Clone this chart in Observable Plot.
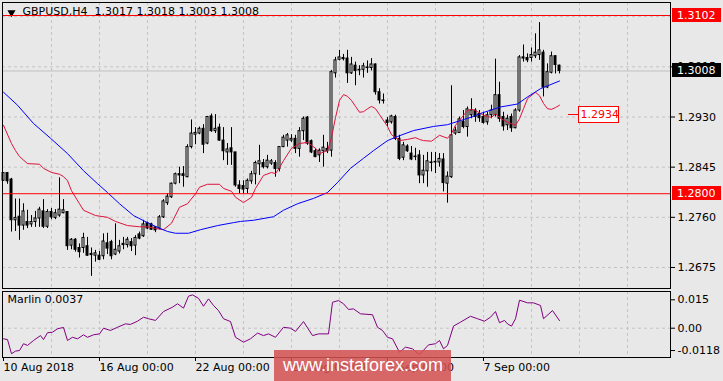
<!DOCTYPE html>
<html><head><meta charset="utf-8">
<script src="https://cdn.jsdelivr.net/npm/d3@7"></script>
<script src="https://cdn.jsdelivr.net/npm/@observablehq/plot@0.6"></script>
<style>
body{margin:0;background:#e8e8e8;}
#chart{position:relative;width:723px;height:381px;background:#e8e8e8;overflow:hidden;font-family:"DejaVu Sans",sans-serif;}
#chart svg{position:absolute;left:0;}
#wm{position:absolute;left:274px;top:350px;width:177px;height:31px;background:rgba(212,80,80,0.86);color:#fff;font:18px "Liberation Sans",Arial,sans-serif;line-height:31px;padding-left:9px;box-sizing:border-box;white-space:nowrap;}
</style></head><body><div id="chart"></div>
<script>
// ---- Data (H4 bars, index 0 = 10 Aug 2018 00:00) ----
const symbol = "GBPUSD,H4";
const open = [1.2822,1.2835,1.2824,1.2755,1.2761,1.2746,1.2752,1.2748,1.2752,1.2758,
1.2770,1.2744,1.2769,1.2759,1.2763,1.2767,1.2769,1.2712,1.2722,1.2708,
1.2708,1.2711,1.2698,1.2695,1.2695,1.2694,1.2716,1.2718,1.2697,1.2702,
1.2715,1.2713,1.2718,1.2712,1.2731,1.2728,1.2750,1.2748,1.2743,1.2741,
1.2760,1.2784,1.2794,1.2817,1.2833,1.2833,1.2828,1.2879,1.2900,1.2902,
1.2910,1.2885,1.2931,1.2906,1.2912,1.2890,1.2870,1.2877,1.2870,1.2814,
1.2813,1.2808,1.2821,1.2833,1.2850,1.2852,1.2845,1.2851,1.2852,1.2842,
1.2879,1.2890,1.2890,1.2893,1.2876,1.2906,1.2929,1.2889,1.2872,1.2865,
1.2872,1.2876,1.2873,1.3004,1.3027,1.3030,1.3029,1.3004,1.3017,1.3010,
1.3010,1.3014,1.3013,1.3019,1.2972,1.2958,1.2924,1.2921,1.2930,1.2893,
1.2861,1.2880,1.2868,1.2863,1.2865,1.2831,1.2838,1.2853,1.2853,1.2853,
1.2858,1.2817,1.2828,1.2902,1.2903,1.2922,1.2913,1.2933,1.2941,1.2935,
1.2930,1.2921,1.2933,1.2933,1.2967,1.2930,1.2916,1.2930,1.2911,1.2941,
1.3031,1.3030,1.3030,1.3033,1.3035,1.3039,1.2980,1.3005,1.3033,1.3017];
const high = [1.2836,1.2836,1.2826,1.2791,1.2791,1.2783,1.2772,1.2763,1.2770,1.2777,
1.2790,1.2773,1.2775,1.2773,1.2827,1.2790,1.2769,1.2724,1.2724,1.2715,
1.2733,1.2726,1.2708,1.2704,1.2702,1.2732,1.2733,1.2721,1.2749,1.2721,
1.2726,1.2726,1.2724,1.2729,1.2735,1.2755,1.2752,1.2750,1.2744,1.2763,
1.2790,1.2800,1.2818,1.2835,1.2845,1.2846,1.2883,1.2925,1.2912,1.2913,
1.2917,1.2931,1.2935,1.2934,1.2918,1.2912,1.2885,1.2912,1.2870,1.2822,
1.2822,1.2825,1.2838,1.2855,1.2882,1.2858,1.2865,1.2858,1.2856,1.2880,
1.2899,1.2902,1.2900,1.2899,1.2912,1.2930,1.2931,1.2891,1.2876,1.2876,
1.2899,1.2887,1.3009,1.3031,1.3043,1.3036,1.3043,1.3031,1.3023,1.3017,
1.3021,1.3025,1.3029,1.3020,1.2978,1.2969,1.2929,1.2933,1.2933,1.2899,
1.2887,1.2883,1.2880,1.2877,1.2873,1.2865,1.2870,1.2870,1.2870,1.2868,
1.2868,1.2837,1.2983,1.2913,1.2930,1.2941,1.2947,1.2961,1.2944,1.2941,
1.2938,1.2938,1.2950,1.3028,1.2989,1.2938,1.2933,1.2935,1.2944,1.3034,
1.3052,1.3037,1.3047,1.3071,1.3090,1.3043,1.3020,1.3040,1.3034,1.3018];
const low = [1.2821,1.2816,1.2735,1.2736,1.2721,1.2738,1.2741,1.2743,1.2743,1.2743,
1.2741,1.2741,1.2756,1.2756,1.2760,1.2766,1.2704,1.2705,1.2701,1.2691,
1.2699,1.2694,1.2660,1.2684,1.2687,1.2688,1.2697,1.2688,1.2695,1.2698,
1.2705,1.2708,1.2702,1.2695,1.2722,1.2726,1.2739,1.2738,1.2734,1.2739,
1.2758,1.2780,1.2792,1.2815,1.2817,1.2811,1.2827,1.2876,1.2883,1.2900,
1.2868,1.2883,1.2904,1.2902,1.2889,1.2856,1.2848,1.2848,1.2811,1.2800,
1.2800,1.2800,1.2816,1.2815,1.2831,1.2842,1.2842,1.2848,1.2828,1.2837,
1.2878,1.2879,1.2887,1.2868,1.2862,1.2890,1.2882,1.2868,1.2861,1.2853,
1.2845,1.2868,1.2862,1.2996,1.3025,1.3025,1.2987,1.3002,1.2983,1.3000,
1.2996,1.3004,1.3008,1.2967,1.2952,1.2952,1.2913,1.2918,1.2890,1.2856,
1.2856,1.2870,1.2856,1.2856,1.2817,1.2817,1.2811,1.2837,1.2834,1.2845,
1.2803,1.2784,1.2826,1.2899,1.2902,1.2910,1.2896,1.2927,1.2921,1.2921,
1.2918,1.2916,1.2927,1.2930,1.2921,1.2906,1.2907,1.2904,1.2910,1.2938,
1.3023,1.3022,1.3023,1.3029,1.3026,1.2964,1.2978,1.3003,1.3003,1.3003];
const close = [1.2835,1.2821,1.2755,1.2759,1.2746,1.2770,1.2746,1.2752,1.2758,1.2773,
1.2744,1.2769,1.2760,1.2767,1.2773,1.2772,1.2711,1.2722,1.2705,1.2701,
1.2725,1.2695,1.2696,1.2699,1.2688,1.2719,1.2707,1.2694,1.2705,1.2711,
1.2713,1.2722,1.2711,1.2725,1.2724,1.2748,1.2741,1.2739,1.2738,1.2760,
1.2787,1.2795,1.2817,1.2833,1.2831,1.2830,1.2879,1.2902,1.2903,1.2910,
1.2883,1.2930,1.2906,1.2910,1.2890,1.2872,1.2875,1.2870,1.2814,1.2808,
1.2807,1.2822,1.2833,1.2852,1.2855,1.2845,1.2856,1.2855,1.2842,1.2879,
1.2895,1.2899,1.2893,1.2876,1.2906,1.2927,1.2885,1.2870,1.2862,1.2873,
1.2878,1.2872,1.3006,1.3026,1.3031,1.3028,1.3004,1.3019,1.3008,1.3009,
1.3016,1.3013,1.3019,1.2972,1.2958,1.2957,1.2920,1.2931,1.2893,1.2859,
1.2882,1.2872,1.2858,1.2862,1.2831,1.2839,1.2855,1.2852,1.2854,1.2859,
1.2818,1.2829,1.2899,1.2907,1.2926,1.2913,1.2943,1.2941,1.2930,1.2928,
1.2920,1.2933,1.2941,1.2967,1.2927,1.2914,1.2927,1.2911,1.2941,1.3031,
1.3029,1.3026,1.3035,1.3039,1.3043,1.2980,1.3006,1.3033,1.3018,1.3008];

// moving averages (bar index, price)
const redBar = [0,2,3,4,6,9,10,12,14,15,16,17,19,20,23,26,28,31,34,36,38,40,42,44,46,48,49,51,54,55,57,58,60,62,63,65,67,68,69,70,72,74,76,78,79,81,82,83,84,85,86,87,88,89,90,91,92,93,94,96,97,99,101,103,104,105,107,109,111,112,113,116,117,118,120,122,123,124,126,128,129,130,131,133,134,135,136,137,138,139];
const redValue = [1.2916,1.2885,1.2873,1.2863,1.2851,1.2850,1.2843,1.2836,1.2833,1.2829,1.2822,1.2805,1.2783,1.2772,1.2763,1.2760,1.2753,1.2746,1.2744,1.2744,1.2741,1.2739,1.2750,1.2777,1.2783,1.2800,1.2811,1.2816,1.2816,1.2809,1.2804,1.2794,1.2785,1.2794,1.2809,1.2831,1.2836,1.2834,1.2844,1.2856,1.2877,1.2885,1.2887,1.2877,1.2868,1.2873,1.2895,1.2929,1.2958,1.2968,1.2965,1.2958,1.2948,1.2938,1.2939,1.2944,1.2948,1.2944,1.2934,1.2914,1.2900,1.2890,1.2892,1.2895,1.2892,1.2890,1.2889,1.2899,1.2894,1.2902,1.2916,1.2941,1.2943,1.2941,1.2933,1.2929,1.2936,1.2929,1.2921,1.2916,1.2927,1.2944,1.2961,1.2972,1.2966,1.2953,1.2944,1.2943,1.2946,1.2950];
const blueBar = [0,3.5,7.5,11.75,16,20,23.5,26,29,32.5,36,38.5,41,43,46.25,49.25,53.5,57.5,59.25,62.5,67.5,70,73.5,77.5,81,83.5,86.75,90,92.5,96,98.5,102.5,107.5,111,114.25,117.5,119.25,124.25,128.5,131,134.25,139];
const blueValue = [1.2972,1.2950,1.2919,1.2894,1.2868,1.2839,1.2817,1.2802,1.2783,1.2763,1.2751,1.2743,1.2736,1.2733,1.2733,1.2739,1.2746,1.2751,1.2753,1.2755,1.2761,1.2772,1.2783,1.2792,1.2802,1.2819,1.2843,1.2860,1.2873,1.2890,1.2897,1.2907,1.2914,1.2917,1.2924,1.2931,1.2936,1.2947,1.2952,1.2964,1.2978,1.2991];

// Marlin oscillator
const marlinName = "Marlin";
const marlinLast = 0.0037;
const marlinBar = [0,1,2,3,4,5,6,7.5,9.25,10,11,12.25,13.5,15,16,17.25,18.5,20,21,22.5,24,25,26.75,28.5,30.5,31.75,33.5,35,36.25,38,40,42.25,43.5,45,46.25,47.25,48.75,50,51.25,52.5,53.75,55,56.75,58,60,61.75,63.5,65,66.25,68,70,71.75,73,75,77.25,78.75,81.25,82.25,83.75,85,86.25,87.5,89.25,92.25,93.5,94.75,96,97.25,99,100.5,102.25,104,106.25,108,109,110,111,112.5,114.25,116.75,118.5,120.25,121.75,123,124,125.25,126,127,128,129,131,132.5,134.25,135,137.25,139];
const marlinValue = [-0.0056,-0.0060,-0.0135,-0.0121,-0.0118,-0.0082,-0.0091,-0.0065,-0.0039,-0.0060,-0.0024,-0.0021,-0.0003,0.0004,-0.0065,-0.0048,-0.0056,-0.0035,-0.0048,-0.0035,-0.0030,0.0000,-0.0012,0.0005,0.0023,0.0020,0.0037,0.0058,0.0050,0.0041,0.0088,0.0111,0.0129,0.0106,0.0169,0.0176,0.0158,0.0116,0.0155,0.0120,0.0093,0.0050,0.0035,-0.0048,-0.0074,-0.0056,-0.0026,-0.0039,-0.0030,-0.0048,0.0005,0.0000,-0.0017,0.0035,-0.0039,-0.0030,-0.0030,0.0137,0.0146,0.0129,0.0099,0.0102,0.0076,0.0071,0.0005,-0.0012,-0.0048,-0.0056,-0.0127,-0.0100,-0.0109,-0.0140,-0.0088,-0.0082,-0.0065,-0.0109,-0.0091,0.0011,0.0032,0.0063,0.0050,0.0037,0.0058,0.0088,0.0029,0.0041,0.0023,0.0011,0.0050,0.0148,0.0134,0.0134,0.0120,0.0050,0.0093,0.0040];

// axes / levels
const priceTicks = [1.3015,1.2930,1.2845,1.2760,1.2675];
const redLevels = [1.3102,1.2800];
const bidPrice = 1.3008;
const maLabel = 1.2934;
const marlinTicks = [0.015,0,-0.0118];
const marlinTickLabels = ["0.015","0.00","-0.0118"];
const dateTicks = [0,24,48,72,96,120];
const dateLabels = ["10 Aug 2018","16 Aug 00:00","22 Aug 00:00","28 Aug 00:00","3 Sep 00:00","7 Sep 00:00"];
const watermark = "www.instaforex.com";

// ---- Build ----
const BG = "#e8e8e8", GRID = "#c4c4c4";
const FONT = "DejaVu Sans";
const candles = open.map((o,i)=>({i, open:o, high:high[i], low:low[i], close:close[i]}));
const bull = candles.filter(d=>d.close>=d.open), bear = candles.filter(d=>d.close<d.open);
const red = redBar.map((b,k)=>({b, v:redValue[k]}));
const blue = blueBar.map((b,k)=>({b, v:blueValue[k]}));
const marlin = marlinBar.map((b,k)=>({b, v:marlinValue[k]}));
const vgrid = d3.range(12, 160, 12);
const xDomain = [-0.25, 166.75];
const last = candles[candles.length-1];
const fmt4 = d=>d.toFixed(4);

const main = Plot.plot({
  width:723, height:290, marginTop:2, marginBottom:2, marginLeft:2, marginRight:53,
  style:{background:"transparent", fontFamily:FONT, fontSize:"11px", color:"black", overflow:"visible"},
  x:{domain:xDomain, axis:null},
  y:{domain:[1.263938,1.312403], axis:null},
  marks:[
    Plot.ruleX(vgrid, {stroke:GRID, strokeDasharray:"3,3"}),
    Plot.ruleY(priceTicks.concat([1.3100]), {stroke:GRID, strokeDasharray:"3,3"}),
    Plot.ruleY([bidPrice], {stroke:"#c0c0c0"}),
    Plot.ruleX(candles, {x:"i", y1:"low", y2:"high", stroke:"black"}),
    Plot.rect(bull, {x1:d=>d.i-0.25, x2:d=>d.i+0.25, y1:"open", y2:"close", fill:BG, stroke:"black"}),
    Plot.rect(bear, {x1:d=>d.i-0.25, x2:d=>d.i+0.25, y1:"open", y2:"close", fill:"black", stroke:"black"}),
    Plot.line(red, {x:"b", y:"v", stroke:"#dc143c", strokeWidth:1}),
    Plot.line(blue, {x:"b", y:"v", stroke:"#0000ff", strokeWidth:1}),
    Plot.dot([0], {frameAnchor:"top-left", dx:9, dy:10, symbol:"triangle", rotate:180, r:3, fill:"black", stroke:null}),
    Plot.text([symbol], {frameAnchor:"top-left", dx:20, dy:5, lineAnchor:"top", textAnchor:"start", fontSize:11, fill:"black"}),
    Plot.text([[last.open,last.high,last.low,last.close].map(fmt4).join(" ")], {frameAnchor:"top-left", dx:92, dy:5, lineAnchor:"top", textAnchor:"start", fontSize:11, fill:"black"}),
    Plot.ruleY(redLevels, {stroke:"#ff0000"}),
    Plot.axisY(priceTicks, {anchor:"right", label:null, tickSize:4, tickPadding:3, tickFormat:fmt4, fontSize:11}),
    Plot.frame({stroke:"black"})
  ]
});
main.style.top = "0px";

// level / price boxes on the right axis
{
  const ys = main.scale("y"), xs = main.scale("x");
  const svg = d3.select(main);
  const boxes = [{v:redLevels[0], bg:"#ff0000"}, {v:bidPrice, bg:"#000000"}, {v:redLevels[1], bg:"#ff0000"}];
  boxes.forEach(b=>{
    const y = Math.round(ys.apply(b.v));
    svg.append("rect").attr("x",672).attr("y",y-7).attr("width",49).attr("height",14).attr("fill",b.bg);
    svg.append("text").attr("x",677).attr("y",y).attr("dy","0.36em").attr("fill","#fff")
      .attr("text-anchor","start").attr("font-family",FONT).attr("font-size",11).text(fmt4(b.v));
  });
  // MA value label
  const y = Math.round(ys.apply(maLabel)) + 0.5;
  const x0 = xs.apply(141.25), x1 = xs.apply(143.75);
  svg.append("line").attr("x1",x0).attr("x2",x1).attr("y1",y).attr("y2",y).attr("stroke","#ff0000");
  svg.append("rect").attr("x",x1+0.5).attr("y",y-8).attr("width",40).attr("height",16).attr("fill","#fff").attr("stroke","#ff0000");
  svg.append("text").attr("x",x1+2.5).attr("y",y).attr("dy","0.36em").attr("fill","#ff0000")
    .attr("text-anchor","start").attr("font-family",FONT).attr("font-size",11).text(fmt4(maLabel));
}

const sub = Plot.plot({
  width:723, height:93, marginTop:3, marginBottom:24, marginLeft:2, marginRight:53,
  style:{background:"transparent", fontFamily:FONT, fontSize:"11px", color:"black", overflow:"visible"},
  x:{domain:xDomain, axis:null},
  y:{domain:[-0.015476,0.019384], axis:null},
  marks:[
    Plot.ruleX(vgrid, {stroke:GRID, strokeDasharray:"3,3"}),
    Plot.ruleY([0], {stroke:GRID, strokeDasharray:"3,3"}),
    Plot.line(marlin, {x:"b", y:"v", stroke:"#800080", strokeWidth:1}),
    Plot.text([marlinName + " " + marlinLast.toFixed(4)], {frameAnchor:"top-left", dx:5, dy:4, lineAnchor:"top", textAnchor:"start", fontSize:11, fill:"black"}),
    Plot.axisY(marlinTicks, {anchor:"right", label:null, tickSize:4, tickPadding:3, fontSize:11, tickFormat:d=>marlinTickLabels[marlinTicks.indexOf(d)]}),
    Plot.axisX(dateTicks, {anchor:"bottom", label:null, tickSize:4, tickPadding:2, fontSize:11, textAnchor:"start", tickFormat:d=>dateLabels[dateTicks.indexOf(d)]}),
    Plot.frame({stroke:"black"})
  ]
});
sub.style.top = "288px";

const chart = document.getElementById("chart");
chart.appendChild(main);
chart.appendChild(sub);
const wm = document.createElement("div");
wm.id = "wm"; wm.textContent = watermark;
chart.appendChild(wm);
</script></body></html>
